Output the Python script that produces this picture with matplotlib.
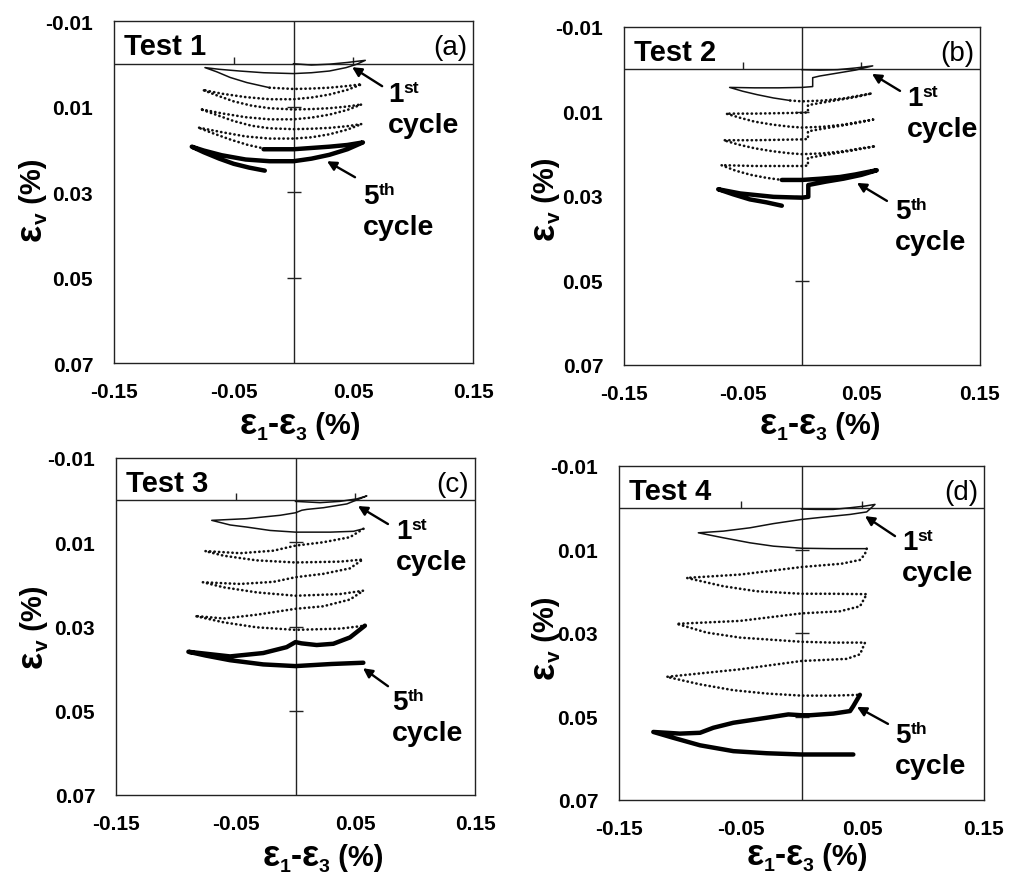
import matplotlib
matplotlib.use("Agg")
import matplotlib.pyplot as plt
from matplotlib.transforms import IdentityTransform

plt.rcParams["font.family"] = ["Liberation Sans", "DejaVu Sans"]

W, H = 1009, 878

# ---------------- data: volumetric vs. deviatoric strain loops (%) ----------------
# Test 1
t1_c1_x = [0, 0.015, 0.03, 0.045, 0.06, 0.053, 0.044, 0.03, 0.015, 0, -0.025, -0.045,
           -0.062, -0.074, -0.064, -0.053, -0.039, -0.02]
t1_c1_y = [0, 0.0003, 0.0001, -0.0003, -0.0008, 0.0001, 0.0009, 0.0017, 0.0021, 0.0023,
           0.0021, 0.0017, 0.0013, 0.0009, 0.0019, 0.0032, 0.0044, 0.0056]
t1_mid_x = [-0.02, 0, 0.015, 0.03, 0.045, 0.057,
            0.045, 0.03, 0.015, 0, -0.02, -0.04, -0.06, -0.076,
            -0.065, -0.05, -0.035, -0.02, 0, 0.015, 0.03, 0.045, 0.057,
            0.045, 0.03, 0.015, 0, -0.02, -0.04, -0.06, -0.078,
            -0.066, -0.05, -0.035, -0.02, 0, 0.015, 0.03, 0.045, 0.057,
            0.045, 0.03, 0.015, 0, -0.02, -0.04, -0.06, -0.08,
            -0.068, -0.052, -0.038, -0.025]
t1_mid_y = [0.0056, 0.0059, 0.0058, 0.0056, 0.0052, 0.0048,
            0.0061, 0.0072, 0.0079, 0.0083, 0.0083, 0.0078, 0.0070, 0.0061,
            0.0073, 0.0088, 0.0098, 0.0104, 0.0107, 0.0106, 0.0104, 0.0100, 0.0095,
            0.0108, 0.0119, 0.0126, 0.0130, 0.0130, 0.0125, 0.0116, 0.0106,
            0.0118, 0.0134, 0.0145, 0.0151, 0.0153, 0.0152, 0.0150, 0.0146, 0.0141,
            0.0154, 0.0165, 0.0172, 0.0175, 0.0175, 0.0170, 0.0160, 0.0149,
            0.0162, 0.0178, 0.0190, 0.0198]
t1_c5_x = [-0.025, 0, 0.015, 0.03, 0.045, 0.058, 0.045, 0.03, 0.015, 0, -0.02, -0.04,
           -0.06, -0.075, -0.085, -0.075, -0.062, -0.05, -0.037, -0.024]
t1_c5_y = [0.0200, 0.0200, 0.0197, 0.0194, 0.0190, 0.0184, 0.0200, 0.0213, 0.0222, 0.0228,
           0.0228, 0.0224, 0.0214, 0.0203, 0.0194, 0.0207, 0.0222, 0.0234, 0.0243, 0.0250]

# Test 2
t2_c1_x = [0, 0.015, 0.03, 0.045, 0.0596, 0.045, 0.03, 0.015, 0.009, 0.009, 0, -0.02,
           -0.04, -0.061, -0.05, -0.038, -0.024, -0.01]
t2_c1_y = [0.0001, 0.0002, 0.0001, -0.0003, -0.0008, 0.0002, 0.0009, 0.0016, 0.0020,
           0.0041, 0.0043, 0.0044, 0.0044, 0.0043, 0.0052, 0.0060, 0.0068, 0.0074]
t2_mid_x = [-0.01, 0, 0.018, 0.035, 0.049, 0.059,
            0.045, 0.03, 0.015, 0.005, 0.005, 0, -0.02, -0.04, -0.064,
            -0.052, -0.04, -0.025, -0.01, 0, 0.018, 0.035, 0.049, 0.06,
            0.045, 0.03, 0.015, 0.005, 0.005, 0, -0.02, -0.04, -0.066,
            -0.054, -0.04, -0.025, -0.01, 0, 0.018, 0.035, 0.05, 0.062,
            0.045, 0.03, 0.015, 0.005, 0.005, 0, -0.02, -0.04, -0.068,
            -0.056, -0.043, -0.03, -0.017]
t2_mid_y = [0.0074, 0.0076, 0.0074, 0.0069, 0.0062, 0.0057,
            0.0066, 0.0073, 0.0080, 0.0085, 0.0102, 0.0103, 0.0104, 0.0105, 0.0105,
            0.0115, 0.0124, 0.0131, 0.0136, 0.0138, 0.0136, 0.0131, 0.0124, 0.0119,
            0.0128, 0.0135, 0.0142, 0.0147, 0.0165, 0.0166, 0.0167, 0.0168, 0.0168,
            0.0178, 0.0187, 0.0194, 0.0199, 0.0201, 0.0199, 0.0194, 0.0187, 0.0182,
            0.0191, 0.0198, 0.0205, 0.0210, 0.0228, 0.0229, 0.0229, 0.0229, 0.0227,
            0.0240, 0.0250, 0.0257, 0.0262]
t2_c5_x = [-0.017, 0, 0.016, 0.032, 0.045, 0.052, 0.063, 0.05, 0.035, 0.02, 0.0053, 0.0053,
           0, -0.024, -0.052, -0.0706, -0.058, -0.044, -0.030, -0.017]
t2_c5_y = [0.0262, 0.0262, 0.0259, 0.0255, 0.0249, 0.0245, 0.0239, 0.0250, 0.0259, 0.0266,
           0.0274, 0.0302, 0.0304, 0.0302, 0.0294, 0.0284, 0.0296, 0.0308, 0.0315, 0.0323]

# Test 3
t3_c1_x = [0, 0.0206, 0.037, 0.0513, 0.0596, 0.0429, 0.0234, 0.0095, 0.0053, 0, -0.0128,
           -0.0407, -0.07, -0.0546, -0.0407, -0.0212, 0, 0.029, 0.0485, 0.0568]
t3_c1_y = [0.0003, 0.0006, 0.0003, -0.0003, -0.0010, 0.0009, 0.0018, 0.0022, 0.0024, 0.0030,
           0.0036, 0.0044, 0.0048, 0.0059, 0.0064, 0.0072, 0.0076, 0.0076, 0.0074, 0.0068]
t3_mid_x = [0.0568, 0.0455, 0.0232, 0, -0.0184, -0.0463, -0.0755,
            -0.06, -0.0324, 0, 0.0372, 0.0562,
            0.0455, 0.0232, 0, -0.0184, -0.0463, -0.0774,
            -0.06, -0.0324, 0, 0.0372, 0.0567,
            0.0455, 0.0232, 0, -0.0324, -0.06, -0.084,
            -0.0603, -0.0324, 0, 0.0375, 0.058]
t3_mid_y = [0.0068, 0.0088, 0.0100, 0.0108, 0.0120, 0.0126, 0.0121,
            0.0132, 0.0143, 0.0148, 0.0146, 0.0141,
            0.0162, 0.0175, 0.0183, 0.0194, 0.0199, 0.0195,
            0.0207, 0.0219, 0.0227, 0.0223, 0.0215,
            0.0236, 0.0252, 0.0258, 0.0272, 0.0281, 0.0275,
            0.0290, 0.0302, 0.0308, 0.0305, 0.0298]
t3_c5_x = [0.058, 0.0455, 0.0316, 0.0177, 0.005, 0, -0.0074, -0.027, -0.0547, -0.0895,
           -0.075, -0.0547, -0.027, 0, 0.03, 0.0567]
t3_c5_y = [0.0298, 0.0326, 0.0341, 0.0344, 0.0340, 0.0337, 0.0349, 0.0363, 0.0371, 0.0360,
           0.0369, 0.0380, 0.0390, 0.0394, 0.0389, 0.0386]

# Test 4
t4_c1_x = [0, 0.012, 0.026, 0.04, 0.052, 0.0604, 0.0536, 0.0399, 0.0262, 0.0097, 0,
           -0.0231, -0.0423, -0.0642, -0.0848, -0.0642, -0.0423, -0.0231, 0, 0.025, 0.0536]
t4_c1_y = [0.0003, 0.0004, 0.0004, 0.0000, -0.0004, -0.0008, 0.0010, 0.0016, 0.0020, 0.0025,
           0.0028, 0.0038, 0.0048, 0.0056, 0.0060, 0.0072, 0.0084, 0.0092, 0.0097, 0.0098,
           0.0098]
t4_mid_x = [0.0536, 0.052, 0.048, 0.033, 0, -0.0505, -0.0944,
            -0.0642, -0.0368, 0, 0.025, 0.0536,
            0.0481, 0.0316, 0, -0.0505, -0.1026,
            -0.0779, -0.0505, 0, 0.025, 0.0522,
            0.0481, 0.0371, 0, -0.0505, -0.1108,
            -0.0834, -0.056, -0.0286, 0, 0.0262, 0.048]
t4_mid_y = [0.0098, 0.0112, 0.0125, 0.0134, 0.0142, 0.0160, 0.0168,
            0.0188, 0.0200, 0.0206, 0.0206, 0.0207,
            0.0236, 0.0248, 0.0253, 0.0271, 0.0278,
            0.0299, 0.0311, 0.0321, 0.0323, 0.0323,
            0.0351, 0.0362, 0.0367, 0.0387, 0.0405,
            0.0423, 0.0437, 0.0445, 0.0450, 0.0450, 0.0448]
t4_c5_x = [0.048, 0.0426, 0.0399, 0.0262, 0.007, 0, -0.0108, -0.0286, -0.056, -0.0725,
           -0.0834, -0.0999, -0.1218, -0.1054, -0.0834, -0.056, -0.0286, 0, 0.0262, 0.0426]
t4_c5_y = [0.0448, 0.0475, 0.0487, 0.0493, 0.0497, 0.0497, 0.0495, 0.0503, 0.0515, 0.0527,
           0.0539, 0.0541, 0.0537, 0.0551, 0.0569, 0.0583, 0.0588, 0.0591, 0.0591, 0.0591]

# axis scales
x_ticks = [-0.15, -0.05, 0.05, 0.15]
x_tick_labels = ["-0.15", "-0.05", "0.05", "0.15"]
y_ticks = [-0.01, 0.01, 0.03, 0.05, 0.07]
y_tick_labels = ["-0.01", "0.01", "0.03", "0.05", "0.07"]
cross_x_ticks = [-0.05, 0.05]
cross_y_ticks = [0.01, 0.03, 0.05]

panels = [
    dict(name="Test 1", tag="(a)", box=(114, 22, 473, 364),
         c1=(t1_c1_x, t1_c1_y), mid=(t1_mid_x, t1_mid_y), c5=(t1_c5_x, t1_c5_y),
         first=((0.049, 0.0008), (30, -19)), fifth=((0.028, 0.0228), (28, -16)),
         first_txt=(388, 102), fifth_txt=(363, 204),
         xlab=(300, 434), ylab=(41, 200)),
    dict(name="Test 2", tag="(b)", box=(624, 28, 980, 366),
         c1=(t2_c1_x, t2_c1_y), mid=(t2_mid_x, t2_mid_y), c5=(t2_c5_x, t2_c5_y),
         first=((0.059, 0.0011), (28, -17)), fifth=((0.0463, 0.0269), (30, -18)),
         first_txt=(907, 106), fifth_txt=(895, 219),
         xlab=(820, 434), ylab=(554, 199)),
    dict(name="Test 3", tag="(c)", box=(116, 459, 475, 796),
         c1=(t3_c1_x, t3_c1_y), mid=(t3_mid_x, t3_mid_y), c5=(t3_c5_x, t3_c5_y),
         first=((0.0522, 0.0014), (30, -18)), fifth=((0.0564, 0.0399), (25, -18)),
         first_txt=(396, 539), fifth_txt=(392, 710),
         xlab=(323, 866), ylab=(42, 627)),
    dict(name="Test 4", tag="(d)", box=(619, 467, 984, 801),
         c1=(t4_c1_x, t4_c1_y), mid=(t4_mid_x, t4_mid_y), c5=(t4_c5_x, t4_c5_y),
         first=((0.0522, 0.0020), (30, -20)), fifth=((0.0456, 0.0477), (31, -17)),
         first_txt=(902, 550), fifth_txt=(895, 743),
         xlab=(807, 865), ylab=(554, 638)),
]

fig = plt.figure(figsize=(W / 100, H / 100), dpi=100)
fig.patch.set_facecolor("white")
renderer = fig.canvas.get_renderer()


def rich(pieces, x, y, rotation=0, center=False):
    """Lay out bold text pieces of different sizes along one baseline.
    pieces: (string, fontsize, shift in px perpendicular to the baseline).
    x, y: pixel position (origin top-left) of the baseline start / centre."""
    arts, lens = [], []
    for s, size, shift in pieces:
        t = fig.text(0, 0, s, fontsize=size, fontweight="bold", rotation=rotation,
                     rotation_mode="anchor", ha="left", va="baseline",
                     transform=IdentityTransform())
        bb = t.get_window_extent(renderer)
        lens.append(bb.width if rotation == 0 else bb.height)
        arts.append((t, shift))
    total = sum(lens)
    pos = 0.0
    for (t, shift), length in zip(arts, lens):
        if rotation == 0:
            start = x - total / 2 if center else x
            t.set_position((start + pos, H - y + shift))
        else:
            start = (H - y) - total / 2 if center else H - y
            t.set_position((x - shift, start + pos))
        pos += length


for p in panels:
    l, t, r, b = p["box"]
    ax = fig.add_axes([l / W, 1 - b / H, (r - l) / W, (b - t) / H])
    ax.set_xlim(-0.15, 0.15)
    ax.set_ylim(0.07, -0.01)
    ax.set_xticks(x_ticks)
    ax.set_xticklabels(x_tick_labels)
    ax.set_yticks(y_ticks)
    ax.set_yticklabels(y_tick_labels)
    ax.tick_params(axis="x", length=0, pad=13.5, labelsize=15)
    ax.tick_params(axis="y", length=0, pad=15, labelsize=15)
    for lab in ax.get_xticklabels() + ax.get_yticklabels():
        lab.set_fontweight("bold")
    for sp in ax.spines.values():
        sp.set_linewidth(1.0)
        sp.set_color("#222222")

    # axes crossing at the origin, with their own tick marks
    ax.axhline(0, color="#222222", lw=1.0, zorder=1)
    ax.axvline(0, color="#222222", lw=1.0, zorder=1)
    ax.plot([0] * len(cross_y_ticks), cross_y_ticks, ls="none", marker="_", ms=10,
            mew=1.0, color="#222222", zorder=1)
    ax.plot(cross_x_ticks, [0] * len(cross_x_ticks), ls="none", marker=2, ms=5,
            mew=1.0, color="#222222", zorder=1)

    # cycles: 1st thin, 2nd-4th dotted, 5th thick
    ax.plot(*p["c1"], color="#111111", lw=1.1, zorder=3)
    ax.plot(*p["mid"], color="#111111", lw=1.9, ls=(0, (0.1, 1.6)),
            dash_capstyle="round", zorder=3)
    ax.plot(*p["c5"], color="black", lw=3.2, solid_capstyle="round",
            solid_joinstyle="round", zorder=3)

    # panel titles
    ax.annotate(p["name"], xy=(0, 1), xycoords="axes fraction", xytext=(10, -33),
                textcoords="offset pixels", ha="left", va="baseline", fontsize=21,
                fontweight="bold")
    ax.annotate(p["tag"], xy=(1, 1), xycoords="axes fraction", xytext=(-6, -33),
                textcoords="offset pixels", ha="right", va="baseline", fontsize=20)

    # arrows to the 1st and 5th cycles
    for key in ("first", "fifth"):
        head, off = p[key]
        ax.annotate("", xy=head, xycoords="data", xytext=off,
                    textcoords="offset pixels", annotation_clip=False,
                    arrowprops=dict(arrowstyle="-|>,head_length=0.55,head_width=0.28",
                                    color="black", lw=1.7, shrinkA=0, shrinkB=0))

    fx, fy = p["first_txt"]
    rich([("1", 20, 0), ("st", 12.5, 9)], fx, fy)
    rich([("cycle", 20.5, 0)], fx, fy + 31)
    vx, vy = p["fifth_txt"]
    rich([("5", 20, 0), ("th", 12.5, 9)], vx, vy)
    rich([("cycle", 20.5, 0)], vx, vy + 31)

    # axis titles
    lx, ly = p["xlab"]
    rich([("ε", 26, 0), ("1", 14, -6), ("-", 24, 0), ("ε", 26, 0), ("3", 14, -6),
          (" (%)", 21, 0)], lx, ly, center=True)
    yx, yy = p["ylab"]
    rich([("ε", 26, 0), ("v", 15, -6), (" (%)", 21, 0)], yx, yy, rotation=90, center=True)

fig.savefig("out.png", dpi=100, facecolor="white")
